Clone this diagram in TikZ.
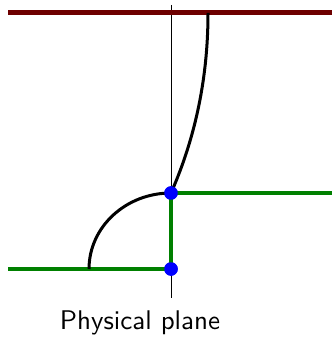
\documentclass[tikz,border=0pt]{standalone}
\usetikzlibrary{positioning,calc}
\usepackage{xcolor}
\definecolor{wallred}{RGB}{110,0,0}
\definecolor{bedgreen}{RGB}{0,128,0}

\begin{document}
\begin{tikzpicture}[
    x=0.4pt, y=-0.4pt,
    axisline/.style={draw=black, line width=0.4pt},
    wallline/.style={draw=wallred, line width=2pt},
    bedline/.style={draw=bedgreen, line width=1.7pt},
    mapline/.style={draw=black, line width=1.2pt},
    cornerdot/.style={circle, fill=blue, inner sep=0pt, minimum size=5.4pt},
    caption/.style={font=\sffamily\fontsize{10.8}{13}\selectfont}
]
\useasboundingbox (0,0) rectangle (332,338);
% axis
\coordinate (axtop) at (171,5);
\coordinate (axbot) at (171,298);
\draw[axisline] (axtop) -- (axbot);
% wall at the top
\coordinate (wallL) at (8,13);
\coordinate (wallR) at (332,13);
\draw[wallline] (wallL) -- (wallR);
% step boundary
\node[cornerdot] (lowdot) at (171,269) {};
\node[cornerdot] (updot) at (171,193) {};
\coordinate (bedL) at (8,269);
\coordinate (bedR) at (332,193);
\draw[bedline] (bedL) -- (lowdot.center) -- (updot.center) -- (bedR);
% curves
\coordinate (arcstart) at (89,269);
\coordinate (curvetop) at (208,13);
\draw[mapline] (arcstart) arc[start angle=180, end angle=270, x radius=82, y radius=76];
\draw[mapline] (updot.center) .. controls (190,150) and (208,90) .. (curvetop);
\node[cornerdot] at (lowdot) {};
\node[cornerdot] at (updot) {};
\node[caption] (label) at (140,323) {Physical plane};
\end{tikzpicture}
\end{document}
